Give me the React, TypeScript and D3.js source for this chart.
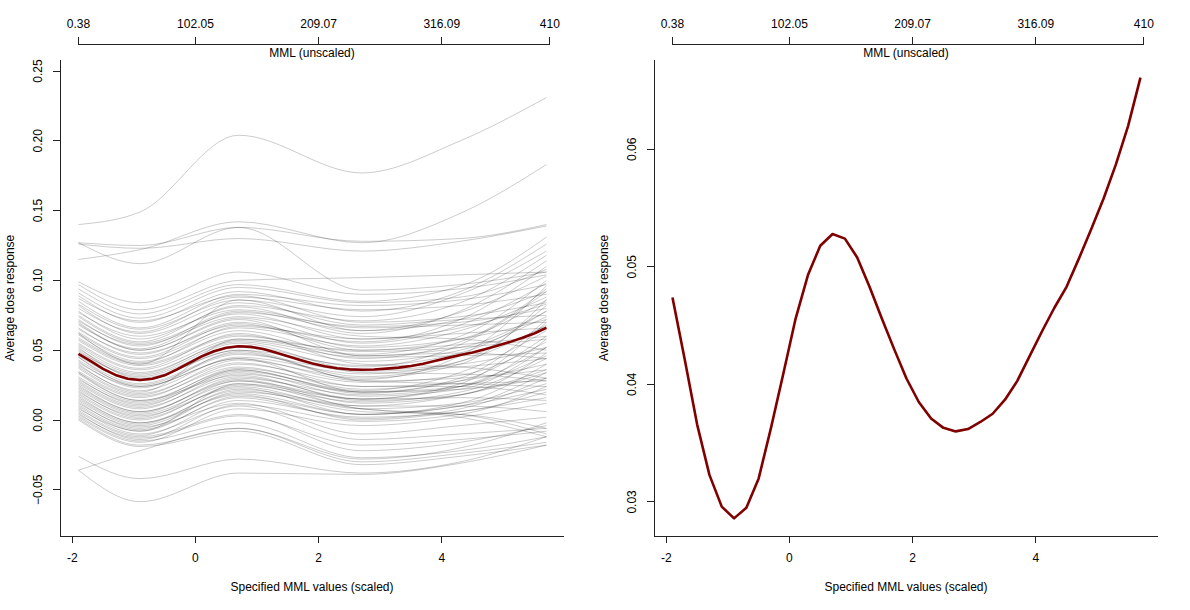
import React, { useEffect, useRef } from "react";
import * as d3 from "d3";

// scaled MML grid used for the average curve
const mmlGrid = [
  -1.9, -1.7, -1.5, -1.3, -1.1, -0.9, -0.7, -0.5, -0.3, -0.1,
  0.1, 0.3, 0.5, 0.7, 0.9, 1.1, 1.3, 1.5, 1.7, 1.9,
  2.1, 2.3, 2.5, 2.7, 2.9, 3.1, 3.3, 3.5, 3.7, 3.9,
  4.1, 4.3, 4.5, 4.7, 4.9, 5.1, 5.3, 5.5, 5.7,
];

// average dose response (dark red line)
const avgResponse = [
  0.0474, 0.0421, 0.0366, 0.0323, 0.0296, 0.0286, 0.0295, 0.032, 0.0363, 0.0409,
  0.0456, 0.0493, 0.0518, 0.0528, 0.0524, 0.0508, 0.0483, 0.0456, 0.043, 0.0405,
  0.0385, 0.0371, 0.0363, 0.036, 0.0362, 0.0368, 0.0375, 0.0387, 0.0403, 0.0424,
  0.0445, 0.0465, 0.0483, 0.0507, 0.0532, 0.0558, 0.0587, 0.062, 0.0661,
];

const sampleKnots = [-1.9, -0.9, 0.7, 2.7, 4.3, 5.7];

// one row per posterior sample curve (grey lines)
const sampleCurves: number[][] = [
  [0.140, 0.149, 0.204, 0.177, 0.200, 0.231],
  [0.127, 0.112, 0.138, 0.093, 0.097, 0.106],
  [0.127, 0.125, 0.138, 0.128, 0.130, 0.140],
  [0.115, 0.122, 0.142, 0.127, 0.148, 0.183],
  [0.126, 0.123, 0.130, 0.121, 0.128, 0.139],
  [0.099, 0.084, 0.106, 0.090, 0.094, 0.104],
  [0.097, 0.079, 0.100, 0.102, 0.104, 0.106],
  [0.094, 0.076, 0.097, 0.085, 0.096, 0.131],
  [0.091, 0.073, 0.095, 0.084, 0.088, 0.108],
  [0.089, 0.070, 0.092, 0.078, 0.092, 0.126],
  [0.087, 0.071, 0.089, 0.070, 0.074, 0.084],
  [0.085, 0.066, 0.090, 0.082, 0.086, 0.097],
  [0.083, 0.065, 0.086, 0.074, 0.090, 0.121],
  [0.082, 0.062, 0.084, 0.068, 0.072, 0.075],
  [0.080, 0.063, 0.088, 0.079, 0.082, 0.090],
  [0.078, 0.058, 0.081, 0.062, 0.078, 0.114],
  [0.077, 0.060, 0.079, 0.066, 0.068, 0.070],
  [0.075, 0.056, 0.082, 0.071, 0.084, 0.118],
  [0.074, 0.055, 0.076, 0.058, 0.062, 0.066],
  [0.072, 0.053, 0.078, 0.064, 0.077, 0.103],
  [0.071, 0.054, 0.074, 0.060, 0.058, 0.050],
  [0.069, 0.050, 0.073, 0.055, 0.068, 0.098],
  [0.068, 0.051, 0.077, 0.067, 0.070, 0.080],
  [0.066, 0.047, 0.070, 0.052, 0.058, 0.072],
  [0.065, 0.048, 0.068, 0.056, 0.072, 0.110],
  [0.063, 0.045, 0.069, 0.050, 0.054, 0.060],
  [0.062, 0.044, 0.066, 0.053, 0.064, 0.088],
  [0.061, 0.042, 0.064, 0.046, 0.048, 0.044],
  [0.059, 0.041, 0.067, 0.058, 0.066, 0.083],
  [0.058, 0.040, 0.061, 0.044, 0.056, 0.094],
  [0.057, 0.039, 0.060, 0.049, 0.052, 0.058],
  [0.055, 0.037, 0.062, 0.040, 0.038, 0.030],
  [0.054, 0.036, 0.058, 0.047, 0.060, 0.100],
  [0.053, 0.034, 0.056, 0.042, 0.050, 0.074],
  [0.051, 0.033, 0.057, 0.045, 0.046, 0.048],
  [0.050, 0.031, 0.053, 0.038, 0.054, 0.092],
  [0.049, 0.032, 0.055, 0.036, 0.040, 0.052],
  [0.047, 0.029, 0.050, 0.039, 0.048, 0.078],
  [0.046, 0.028, 0.052, 0.034, 0.033, 0.028],
  [0.045, 0.026, 0.048, 0.031, 0.042, 0.082],
  [0.043, 0.025, 0.047, 0.035, 0.038, 0.044],
  [0.042, 0.023, 0.049, 0.029, 0.046, 0.096],
  [0.041, 0.024, 0.044, 0.028, 0.030, 0.036],
  [0.039, 0.021, 0.045, 0.033, 0.042, 0.068],
  [0.038, 0.019, 0.041, 0.024, 0.024, 0.018],
  [0.037, 0.018, 0.043, 0.030, 0.040, 0.086],
  [0.035, 0.017, 0.038, 0.022, 0.028, 0.040],
  [0.034, 0.016, 0.040, 0.027, 0.032, 0.056],
  [0.033, 0.014, 0.036, 0.019, 0.030, 0.072],
  [0.031, 0.013, 0.037, 0.024, 0.026, 0.028],
  [0.030, 0.011, 0.034, 0.017, 0.022, 0.052],
  [0.029, 0.012, 0.035, 0.021, 0.034, 0.064],
  [0.027, 0.009, 0.031, 0.015, 0.016, 0.014],
  [0.026, 0.008, 0.033, 0.020, 0.028, 0.060],
  [0.025, 0.006, 0.029, 0.012, 0.018, 0.034],
  [0.023, 0.005, 0.030, 0.018, 0.024, 0.046],
  [0.022, 0.004, 0.026, 0.010, 0.010, 0.006],
  [0.021, 0.002, 0.028, 0.015, 0.026, 0.070],
  [0.019, 0.001, 0.024, 0.008, 0.012, 0.026],
  [0.018, 0.000, 0.025, 0.013, 0.020, 0.044],
  [0.017, -0.002, 0.021, 0.006, 0.004, -0.006],
  [0.015, -0.003, 0.022, 0.010, 0.018, 0.036],
  [0.014, -0.004, 0.019, 0.004, 0.010, 0.022],
  [0.013, -0.006, 0.020, 0.008, 0.002, -0.012],
  [0.011, -0.007, 0.016, 0.001, 0.008, 0.030],
  [0.010, -0.008, 0.017, 0.004, 0.012, 0.040],
  [0.009, -0.010, 0.010, -0.014, -0.010, -0.006],
  [0.007, -0.011, 0.014, 0.002, 0.006, 0.020],
  [0.006, -0.012, 0.004, -0.022, -0.016, -0.004],
  [0.005, -0.014, 0.011, -0.001, 0.004, 0.024],
  [0.003, -0.015, -0.002, -0.027, -0.022, -0.012],
  [0.002, -0.016, 0.008, -0.004, 0.002, 0.012],
  [0.001, -0.018, -0.006, -0.030, -0.024, -0.016],
  [0.000, -0.019, -0.008, -0.032, -0.026, -0.018],
  [0.008, -0.008, 0.026, 0.015, 0.024, 0.052],
  [0.040, 0.020, 0.058, 0.050, 0.058, 0.086],
  [0.062, 0.040, 0.086, 0.064, 0.072, 0.092],
  [0.028, 0.010, 0.036, 0.020, 0.022, 0.030],
  [0.024, 0.006, 0.028, 0.008, 0.004, -0.010],
  [0.020, 0.003, 0.023, 0.004, 0.010, 0.034],
  [0.016, -0.002, 0.018, 0.000, 0.006, 0.016],
  [0.012, -0.005, 0.012, -0.010, -0.004, 0.002],
  [0.034, 0.014, 0.032, 0.014, 0.018, 0.048],
  [0.004, -0.013, 0.003, -0.018, -0.014, -0.008],
  [0.045, 0.024, 0.044, 0.020, 0.024, 0.058],
  [0.052, 0.030, 0.050, 0.028, 0.026, 0.024],
  [0.070, 0.050, 0.072, 0.046, 0.052, 0.078],
  [-0.036, -0.0585, -0.038, -0.039, -0.031, -0.018],
  [-0.026, -0.042, -0.028, -0.038, -0.030, -0.012],
  [-0.036, -0.022, -0.006, -0.028, -0.020, -0.002],
];

// top axis: unscaled MML, and where its ends sit on the scaled axis
const mmlTicks = [0.38, 102.05, 209.07, 316.09, 410];
const mmlTickLabels = ["0.38", "102.05", "209.07", "316.09", "410"];
const mmlScaledEnds = [-1.9, 5.755];

const scaledTicks = [-2, 0, 2, 4];
const leftYTicks = [-0.05, 0, 0.05, 0.1, 0.15, 0.2, 0.25];
const rightYTicks = [0.03, 0.04, 0.05, 0.06];

const FONT = "'Liberation Sans', Arial, Helvetica, sans-serif";
const TOP = 60;
const BOTTOM = 536;
const TICK = 7;

interface IPanel {
  left: number;
  right: number;
  yDomain: [number, number];
  yTicks: number[];
  samples: boolean;
}

function drawPanel(svg: any, p: IPanel) {
  const x = d3.scaleLinear().domain([-2.2, 5.985]).range([p.left, p.right]);
  const y = d3.scaleLinear().domain(p.yDomain).range([BOTTOM, TOP]);
  const xTop = d3
    .scaleLinear()
    .domain([mmlTicks[0], mmlTicks[mmlTicks.length - 1]])
    .range([x(mmlScaledEnds[0]), x(mmlScaledEnds[1])]);
  const fmt = d3.format(".2f");

  const g = svg
    .append("g")
    .attr("font-family", FONT)
    .attr("font-size", 12)
    .attr("fill", "#000");

  //grey sample curves
  if (p.samples) {
    const sampleLine = d3
      .line<number>()
      .x((d, i) => x(sampleKnots[i]))
      .y((d) => y(d))
      .curve(d3.curveMonotoneX);
    g.append("g")
      .selectAll("path")
      .data(sampleCurves)
      .join("path")
      .attr("d", sampleLine)
      .attr("fill", "none")
      .attr("stroke", "#000")
      .attr("stroke-opacity", 0.2)
      .attr("stroke-width", 1);
  }

  //average curve
  const avgLine = d3
    .line<number>()
    .x((d, i) => x(mmlGrid[i]))
    .y((d) => y(d));
  g.append("path")
    .datum(avgResponse)
    .attr("d", avgLine)
    .attr("fill", "none")
    .attr("stroke", "#800000")
    .attr("stroke-width", 2.6)
    .attr("stroke-linejoin", "round");

  const axis = g
    .append("g")
    .attr("stroke", "#222")
    .attr("stroke-width", 1)
    .attr("shape-rendering", "crispEdges");

  // left axis
  axis.append("line").attr("x1", p.left).attr("x2", p.left).attr("y1", TOP).attr("y2", BOTTOM);
  p.yTicks.forEach((v) => {
    axis.append("line").attr("x1", p.left - TICK).attr("x2", p.left).attr("y1", y(v)).attr("y2", y(v));
    const tx = p.left - 18;
    g.append("text")
      .attr("x", tx)
      .attr("y", y(v))
      .attr("text-anchor", "middle")
      .attr("transform", `rotate(-90, ${tx}, ${y(v)})`)
      .text(fmt(v));
  });

  // bottom axis
  axis.append("line").attr("x1", p.left).attr("x2", p.right).attr("y1", BOTTOM).attr("y2", BOTTOM);
  scaledTicks.forEach((v) => {
    axis.append("line").attr("x1", x(v)).attr("x2", x(v)).attr("y1", BOTTOM).attr("y2", BOTTOM + TICK);
    g.append("text").attr("x", x(v)).attr("y", 562).attr("text-anchor", "middle").text(String(v));
  });

  // top axis (unscaled)
  const topY = 44;
  axis
    .append("line")
    .attr("x1", xTop(mmlTicks[0]))
    .attr("x2", xTop(mmlTicks[mmlTicks.length - 1]))
    .attr("y1", topY)
    .attr("y2", topY);
  mmlTicks.forEach((v, i) => {
    axis.append("line").attr("x1", xTop(v)).attr("x2", xTop(v)).attr("y1", topY - TICK).attr("y2", topY);
    g.append("text").attr("x", xTop(v)).attr("y", 28).attr("text-anchor", "middle").text(mmlTickLabels[i]);
  });

  const midX = (p.left + p.right) / 2;
  g.append("text").attr("x", midX).attr("y", 57).attr("text-anchor", "middle").text("MML (unscaled)");
  g.append("text")
    .attr("x", midX)
    .attr("y", 591)
    .attr("text-anchor", "middle")
    .text("Specified MML values (scaled)");

  const ly = (TOP + BOTTOM) / 2;
  const lx = p.left - 46;
  g.append("text")
    .attr("x", lx)
    .attr("y", ly)
    .attr("text-anchor", "middle")
    .attr("transform", `rotate(-90, ${lx}, ${ly})`)
    .text("Average dose response");
}

function App() {
  const chart = useRef<SVGSVGElement>(null);

  useEffect(() => {
    const svg = d3.select(chart.current);
    svg.selectAll("*").remove();
    drawPanel(svg, { left: 60, right: 564, yDomain: [-0.0831, 0.2579], yTicks: leftYTicks, samples: true });
    drawPanel(svg, { left: 654, right: 1158, yDomain: [0.0271, 0.0676], yTicks: rightYTicks, samples: false });
  }, []);

  return (
    <svg
      ref={chart}
      width={1190}
      height={610}
      style={{ position: "absolute", left: 0, top: 0, background: "#fff" }}
    ></svg>
  );
}

export default App;
